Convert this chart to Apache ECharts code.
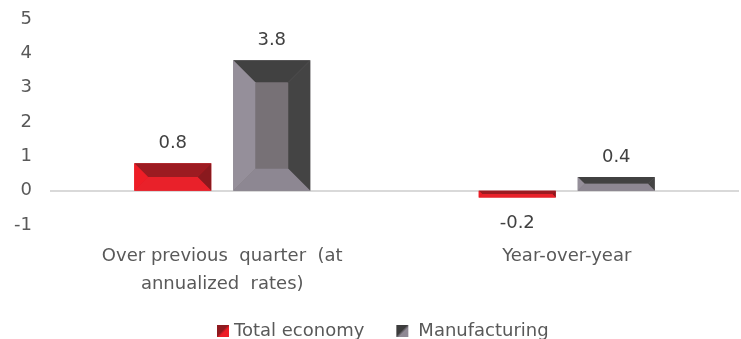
<!DOCTYPE html>
<html>
<head>
<meta charset="utf-8">
<title>Growth: total economy vs manufacturing</title>
<script src="https://cdn.jsdelivr.net/npm/echarts@6/dist/echarts.min.js"></script>
<style>
  html, body { margin: 0; padding: 0; background: #ffffff; }
  #chart { width: 741px; height: 339px; }
</style>
</head>
<body>
<div id="chart"></div>
<script>
// Chart data
const categories = ['Over previous  quarter  (at\nannualized  rates)', 'Year-over-year'];
const seriesNames = ['Total economy', 'Manufacturing'];
const totalEconomy = [0.8, -0.2];
const manufacturing = [3.8, 0.4];
const yTickValues = [-1, 0, 1, 2, 3, 4, 5];

// Bevel facet colours for each series
const facetColors = [
  { face: '#dc1f27', top: '#9c1b21', right: '#8a191e', bottom: '#e9212a', left: '#ee1d26',
    legendFrom: '#8f1a1f', legendTo: '#ee1d26' },
  { face: '#777176', top: '#414141', right: '#444444', bottom: '#8d8792', left: '#958f9a',
    legendFrom: '#3c3c3c', legendTo: '#8f8994' }
];

const FONT = 'DejaVu Sans';
const BAR_W = 77;
const BAR_GAP = 22;
const MAX_BEVEL = 22;

function bevelBar(seriesIdx) {
  const offset = (seriesIdx === 0 ? -1 : 1) * (BAR_W + BAR_GAP) / 2;
  const pal = facetColors[seriesIdx];
  return function (params, api) {
    const cat = api.value(0);
    const val = api.value(1);
    const base = api.coord([cat, 0]);
    const tip = api.coord([cat, val]);
    const cx = base[0] + offset;
    const x0 = cx - BAR_W / 2, x1 = cx + BAR_W / 2;
    const y0 = Math.min(base[1], tip[1]);
    const y1 = Math.max(base[1], tip[1]);
    const h = y1 - y0;
    const b = Math.min(MAX_BEVEL, h / 2, BAR_W / 2);
    const poly = (pts, fill) => ({ type: 'polygon', shape: { points: pts }, style: { fill: fill } });
    const labelY = val >= 0 ? y0 - 20 : y1 + 26;
    return {
      type: 'group',
      children: [
        { type: 'rect', shape: { x: x0, y: y0, width: BAR_W, height: h }, style: { fill: pal.face } },
        poly([[x0, y0], [x1, y0], [x1 - b, y0 + b], [x0 + b, y0 + b]], pal.top),
        poly([[x1, y0], [x1, y1], [x1 - b, y1 - b], [x1 - b, y0 + b]], pal.right),
        poly([[x1, y1], [x0, y1], [x0 + b, y1 - b], [x1 - b, y1 - b]], pal.bottom),
        poly([[x0, y1], [x0, y0], [x0 + b, y0 + b], [x0 + b, y1 - b]], pal.left),
        {
          type: 'text',
          x: cx, y: labelY,
          style: {
            text: val.toFixed(1), align: 'center', verticalAlign: 'middle',
            fill: '#404040', fontFamily: FONT, fontSize: 18
          }
        }
      ]
    };
  };
}

function legendGradient(pal) {
  return {
    type: 'linear', x: 0, y: 0, x2: 1, y2: 1,
    colorStops: [
      { offset: 0, color: pal.legendFrom },
      { offset: 0.45, color: pal.legendFrom },
      { offset: 0.6, color: pal.legendTo },
      { offset: 1, color: pal.legendTo }
    ]
  };
}

const seriesValues = [totalEconomy, manufacturing];

const chart = echarts.init(document.getElementById('chart'), null, { renderer: 'canvas' });
chart.setOption({
  animation: false,
  backgroundColor: '#ffffff',
  grid: { left: 50, right: 2, top: 19, bottom: 114 },
  legend: {
    left: 212,
    top: 317,
    icon: 'rect',
    itemWidth: 12,
    itemHeight: 12,
    itemGap: 32,
    selectedMode: false,
    textStyle: { color: '#595959', fontFamily: FONT, fontSize: 18 },
    data: [
      { name: seriesNames[0] },
      { name: seriesNames[1], textStyle: { padding: [0, 0, 0, 5] } }
    ]
  },
  xAxis: {
    type: 'category',
    data: categories,
    axisLine: { show: false, onZero: false },
    axisTick: { show: false },
    splitLine: { show: false },
    axisLabel: {
      interval: 0,
      margin: 17,
      color: '#595959',
      fontFamily: FONT,
      fontSize: 18,
      lineHeight: 28,
      align: 'center'
    }
  },
  yAxis: {
    type: 'value',
    min: yTickValues[0],
    max: yTickValues[yTickValues.length - 1],
    interval: yTickValues[1] - yTickValues[0],
    axisLine: { show: false },
    axisTick: { show: false },
    splitLine: { show: false },
    axisLabel: { margin: 18, color: '#595959', fontFamily: FONT, fontSize: 18 }
  },
  series: seriesNames.map((name, i) => ({
    name: name,
    type: 'custom',
    renderItem: bevelBar(i),
    itemStyle: { color: legendGradient(facetColors[i]) },
    encode: { x: 0, y: 1 },
    data: seriesValues[i].map((v, c) => [c, v]),
    z: 3,
    markLine: i === 0 ? {
      silent: true,
      symbol: 'none',
      label: { show: false },
      lineStyle: { color: '#d9d9d9', width: 2, type: 'solid' },
      data: [{ yAxis: 0 }],
      z: 1
    } : undefined
  }))
});
</script>
</body>
</html>
